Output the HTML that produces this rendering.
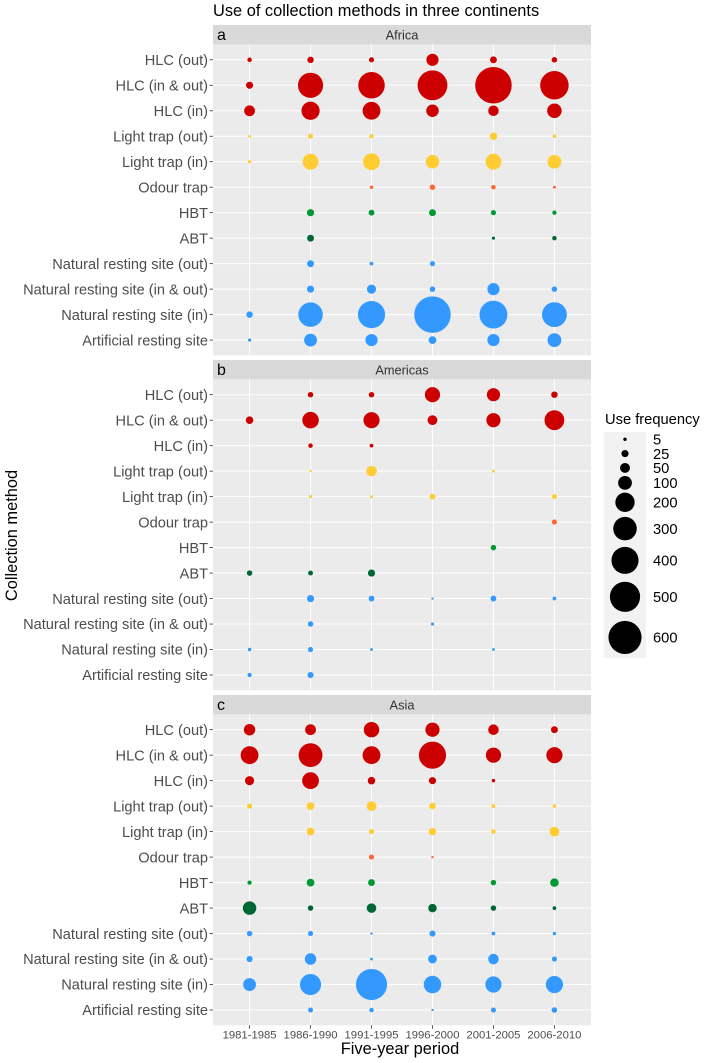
<!DOCTYPE html>
<html>
<head>
<meta charset="utf-8">
<title>Use of collection methods in three continents</title>
<style>
html,body{margin:0;padding:0;background:#fff;width:709px;height:1063px;overflow:hidden}
svg{display:block;font-family:"Liberation Sans",Arial,sans-serif}
</style>
</head>
<body>
<svg id="chart" xmlns="http://www.w3.org/2000/svg" width="709" height="1063" viewBox="0 0 709 1063">
  <text x="213" y="16" font-size="16.4" fill="#000">Use of collection methods in three continents</text>
  <text x="400" y="1054" font-size="16.4" text-anchor="middle" fill="#000">Five-year period</text>
  <text transform="translate(17,535.5) rotate(-90)" font-size="16.4" text-anchor="middle" fill="#000">Collection method</text>
</svg>
<script>
const periods = ['1981-1985','1986-1990','1991-1995','1996-2000','2001-2005','2006-2010'];
const methods = ['HLC (out)','HLC (in & out)','HLC (in)','Light trap (out)','Light trap (in)','Odour trap','HBT','ABT','Natural resting site (out)','Natural resting site (in & out)','Natural resting site (in)','Artificial resting site'];
const legendValues = [5,25,50,100,200,300,400,500,600];

const africaValues = [
  [9,20,12,77,23,14],
  [25,344,382,487,733,443],
  [60,177,170,81,57,111],
  [3,11,8,null,28,5],
  [4,133,150,95,133,100],
  [null,null,5,14,9,3],
  [null,25,16,23,12,8],
  [null,23,null,null,4,9],
  [null,23,6,12,null,null],
  [null,25,42,14,77,14],
  [20,325,402,733,422,335],
  [4,86,77,30,77,100]
];
const americasValues = [
  [null,14,14,122,91,20],
  [28,145,139,49,106,211],
  [null,9,6,null,null,null],
  [null,2,57,null,3,null],
  [null,4,3,16,null,11],
  [null,null,null,null,null,12],
  [null,null,null,null,14,null],
  [14,11,25,null,null,null],
  [null,25,16,2,16,6],
  [null,14,null,4,null,null],
  [5,12,3,null,3,null],
  [8,18,null,null,null,null]
];
const asiaValues = [
  [68,60,127,106,57,23],
  [170,307,170,402,122,139],
  [42,150,28,25,5,null],
  [12,30,49,20,6,5],
  [null,30,12,28,9,49],
  [null,null,12,2,null,null],
  [8,30,23,null,14,36],
  [95,14,46,36,14,6],
  [14,12,2,18,6,5],
  [18,68,3,39,57,12],
  [86,240,530,163,139,157],
  [null,11,9,2,12,14]
];

const svg = document.getElementById('chart');
const NS = 'http://www.w3.org/2000/svg';

function make(tag, attrs, parent) {
  const el = document.createElementNS(NS, tag);
  for (const k in attrs) el.setAttribute(k, attrs[k]);
  (parent || svg).appendChild(el);
  return el;
}
function slug(s) {
  return s.toLowerCase().replace(/&/g, 'and').replace(/[^a-z0-9]+/g, '-').replace(/^-|-$/g, '');
}
function methodColor(i) {
  if (i <= 2) return '#CC0000';
  if (i <= 4) return '#FFCC33';
  if (i === 5) return '#FF6633';
  if (i === 6) return '#009933';
  if (i === 7) return '#006633';
  return '#3399FF';
}

const plotLeft = 213, plotRight = 591;
const xStep = (plotRight - plotLeft) / (periods.length - 1 + 1.2);
function xScale(i) { return plotLeft + (i + 0.6) * xStep; }
function sizeScale(v) { return 1.33 * Math.sqrt(v) + 0.5; }

function drawPanel(panelName, tag, values, stripTop, panelTop, panelBottom, isLast) {
  const yStep = (panelBottom - panelTop) / (methods.length - 1 + 1.2);
  const yScale = i => panelTop + (i + 0.6) * yStep;

  const strip = make('rect', {x: plotLeft, y: stripTop, width: plotRight - plotLeft, height: panelTop - stripTop, fill: '#D9D9D9'});
  
  

  const stripLabel = make('text', {x: (plotLeft + plotRight) / 2, y: stripTop + 14.5, 'font-size': 12.8, 'text-anchor': 'middle', fill: '#333'});
  stripLabel.textContent = panelName;
  
  

  const tagLabel = make('text', {x: 217, y: stripTop + 15, 'font-size': 16, fill: '#000'});
  tagLabel.textContent = tag;
  
  

  const bg = make('rect', {x: plotLeft, y: panelTop, width: plotRight - plotLeft, height: panelBottom - panelTop, fill: '#EBEBEB'});
  
  

  methods.forEach((m, i) => {
    const y = yScale(i);
    const grid = make('line', {x1: plotLeft, x2: plotRight, y1: y, y2: y, stroke: '#fff', 'stroke-width': 1});
    
    

    const tick = make('line', {x1: plotLeft - 3.5, x2: plotLeft, y1: y, y2: y, stroke: '#333', 'stroke-width': 0.8});
    
    

    const label = make('text', {x: plotLeft - 5, y: y + 5.2, 'font-size': 14.6, 'text-anchor': 'end', fill: '#4D4D4D'});
    label.textContent = m;
    
    
  });

  periods.forEach((p, j) => {
    const x = xScale(j);
    const grid = make('line', {x1: x, x2: x, y1: panelTop, y2: panelBottom, stroke: '#fff', 'stroke-width': 1});
    
    

    if (isLast) {
      const tick = make('line', {x1: x, x2: x, y1: panelBottom, y2: panelBottom + 3.5, stroke: '#333', 'stroke-width': 0.8});
      
      

      const label = make('text', {x: x, y: panelBottom + 13.2, 'font-size': 11.3, 'text-anchor': 'middle', fill: '#4D4D4D'});
      label.textContent = p;
      
      
    }
  });

  values.forEach((row, i) => {
    row.forEach((v, j) => {
      if (v === null) return;
      const dot = make('circle', {cx: xScale(j), cy: yScale(i), r: sizeScale(v) / 2, fill: methodColor(i)});
      
      
    });
  });
}

drawPanel('Africa', 'a', africaValues, 25, 44.5, 355.4, false);
drawPanel('Americas', 'b', americasValues, 360, 379.4, 690.3, false);
drawPanel('Asia', 'c', asiaValues, 695, 714.4, 1025.3, true);

const legendTitle = make('text', {x: 605, y: 424, 'font-size': 14.7, fill: '#000'});
legendTitle.textContent = 'Use frequency';



const legendBg = make('rect', {x: 604, y: 432, width: 42, height: 226, fill: '#F2F2F2'});



function legendKeyHeight(v) { return Math.max(14.3, 1.4 * (sizeScale(v) - 0.5) - 3); }
let legendY = 439.3;
legendValues.forEach((v, i) => {
  if (i > 0) legendY += (legendKeyHeight(legendValues[i - 1]) + legendKeyHeight(v)) / 2;
  const key = make('circle', {cx: 625, cy: legendY, r: sizeScale(v) / 2, fill: '#000'});
  
  

  const label = make('text', {x: 653, y: legendY + 5.2, 'font-size': 14.7, fill: '#000'});
  label.textContent = v;
  
  
});
</script>
</body>
</html>
